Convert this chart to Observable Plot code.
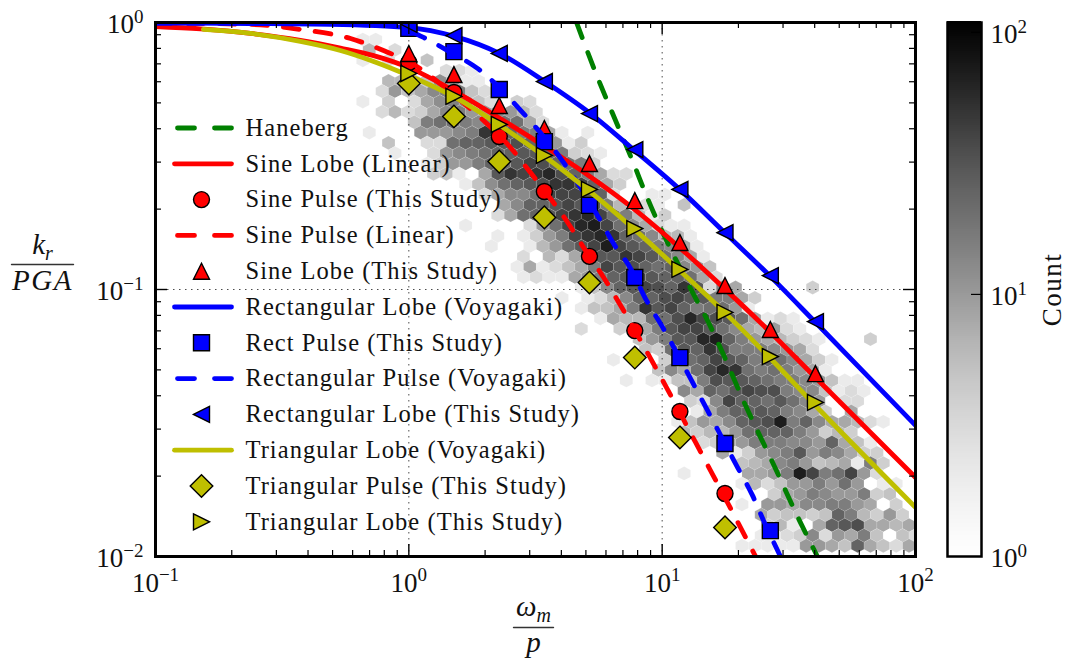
<!DOCTYPE html>
<html>
<head>
<meta charset="utf-8">
<script src="https://cdn.jsdelivr.net/npm/d3@7"></script>
<script src="https://cdn.jsdelivr.net/npm/@observablehq/plot@0.6"></script>
<style>
html,body{margin:0;padding:0;background:#fff;}
#chart{position:relative;width:1069px;height:661px;overflow:hidden;}
#chart svg{position:absolute;top:0;background:transparent;}
</style>
</head>
<body>
<div id="chart"></div>
<script>
// ---- Values. Curves and markers are stored as log10(x), log10(y). ----
const markerLogX = [0, .178, .357, .535, .713, .892, 1.070, 1.248, 1.427, 1.605];
const sineLobeStudy = [-.116, -.195, -.311, -.397, -.528, -.667, -.824, -.985, -1.150, -1.315];
const sinePulseStudy = [-.150, -.262, -.427, -.633, -.876, -1.154, -1.457, -1.764];
const triPulseStudy = [-.228, -.352, -.521, -.730, -.974, -1.255, -1.554, -1.891];
const rectPulseStudy = [-.022, -.109, -.251, -.446, -.685, -.955, -1.255, -1.577, -1.903];
const triLobeStudy = [-.191, -.277, -.382, -.498, -.625, -.772, -.925, -1.086, -1.251, -1.423];
const rectLobeStudy = [-.007, -.049, -.116, -.221, -.341, -.476, -.625, -.787, -.948, -1.120];

const rectLobeX = [-1, -.625, -.309, 0, .180, .358, .536, .717, .887, 1.069, 1.247, 1.424, 1.602, 2];
const rectLobeY = [-.002, -.004, -.007, -.019, -.052, -.116, -.221, -.341, -.476, -.625, -.787, -.948, -1.120, -1.509];
const sineLobeX = [-1, -.822, -.625, -.428, -.270, -.139, 0, .176, .354, .531, .709, .887, 1.069, 1.242, 1.424, 1.597, 2];
const sineLobeY = [-.015, -.024, -.041, -.067, -.096, -.124, -.169, -.255, -.356, -.461, -.573, -.697, -.843, -.993, -1.157, -1.322, -1.704];
const triLobeX = [-.811, -.625, -.428, -.270, -.139, 0, .176, .354, .531, .709, .887, 1.069, 1.242, 1.420, 1.597, 2];
const triLobeY = [-.026, -.041, -.071, -.105, -.146, -.199, -.277, -.382, -.498, -.629, -.772, -.929, -1.082, -1.251, -1.427, -1.816];
const sinePulseX = [-1, -.625, -.428, -.230, -.100, .026, .165, .295, .401, .480, .559, .627, .690, .769, .836, .954, 1.013, 1.132, 1.191, 1.258, 1.309, 1.369];
const sinePulseY = [-.002, -.007, -.026, -.060, -.105, -.161, -.262, -.367, -.468, -.562, -.659, -.749, -.843, -.955, -1.060, -1.258, -1.360, -1.573, -1.678, -1.798, -1.891, -2];
const rectPulseX = [-1, -.428, -.072, .058, .165, .271, .453, .599, .678, .749, .808, .875, .934, 1.002, 1.120, 1.179, 1.298, 1.357, 1.400, 1.467];
const rectPulseY = [-.002, -.002, -.007, -.056, -.112, -.172, -.341, -.509, -.618, -.730, -.828, -.921, -1.034, -1.142, -1.348, -1.453, -1.667, -1.772, -1.865, -2];
const hanebergX = [.662, .745, .816, .879, .946, 1.120, 1.179, 1.231, 1.329, 1.436, 1.546, 1.613];
const hanebergY = [0, -.206, -.367, -.509, -.667, -1.011, -1.116, -1.221, -1.434, -1.648, -1.873, -2];

// Hexbin counts by hexagon row: [row, first column, ...counts]; 0 means an empty cell.
const hexRows = [
[-24,0,2,2],
[-23,0,6,0,3],
[-22,0,2,0,3,0,0,5],
[-21,6,3,3,2],
[-20,2,6,6,5,5,12,8,2,2],
[-19,1,3,10,5,8,13,16,16,5,3],
[-18,0,2,0,4,1,3,8,12,15,13,5,3,0,4,3],
[-17,1,3,6,3,4,8,13,16,10,10,13,10,6,3],
[-16,4,5,16,20,20,16,13,16,20,20,8,3],
[-15,0,2,0,0,0,10,10,10,13,16,50,30,25,16,16,8,2,0,2],
[-14,2,5,0,0,3,3,20,25,25,30,30,35,25,20,10,2,4,1],
[-13,2,2,0,1,3,10,13,16,20,25,25,30,30,25,16,4,3,2],
[-12,5,2,4,10,10,16,25,20,30,40,35,25,20,16,4,1],
[-11,5,4,5,2,1,8,30,50,40,50,60,35,25,16,8,3,3],
[-10,8,2,5,12,20,25,30,35,50,50,40,25,8,4],
[-9,9,3,8,13,13,20,40,40,40,30,25,3,0,0,2,2],
[-8,11,8,13,25,25,30,40,30,30,16,6,0,3,2,0,5],
[-7,10,3,8,20,25,30,40,50,60,40,20,16,6,2,4],
[-6,8,2,0,0,0,0,3,10,20,40,60,70,40,20,13,8,3,2,2],
[-5,10,2,0,2,4,10,16,40,50,60,50,25,20,13,6,6,2,1],
[-4,10,2,0,0,2,6,10,20,30,40,70,40,30,25,16,13,8,2],
[-3,12,3,1,6,3,8,16,30,30,50,40,30,20,13,8,2],
[-2,12,2,8,2,3,5,8,16,40,30,35,25,20,25,13,10,5],
[-1,12,2,3,2,2,8,10,16,25,30,40,30,25,25,20,8,3],
[0,16,1,2,5,13,25,30,40,35,25,50,30,3,15,8,1,0,0,0,0,4],
[1,15,2,0,2,3,6,13,25,25,35,40,30,30,16,16,8,4],
[2,17,2,5,5,8,16,50,30,40,25,16,20,20,10,2],
[3,18,2,8,6,6,20,20,35,60,40,35,30,20,8,2,3,2],
[4,17,3,0,1,4,6,8,16,30,40,40,30,20,13,8,6,10,3,2],
[5,21,5,10,16,30,30,60,70,25,16,10,8,6,4,3,2,0,0,0,4],
[6,22,5,4,20,30,25,50,35,16,16,16,13,10,8,3],
[7,19,2,0,1,1,4,8,20,25,40,30,25,16,25,20,13,8,4,2],
[8,22,1,5,13,8,20,40,60,50,20,16,20,16,10,8,2,1],
[9,20,2,0,2,2,5,5,16,35,30,30,25,20,16,16,13,10,5,2,2],
[10,24,1,13,8,25,20,30,40,35,35,16,13,13,5,2,3,2],
[11,25,4,3,13,40,25,25,20,30,20,13,10,1,3,3],
[12,26,2,8,16,25,25,30,25,16,13,8,4,1,8],
[13,24,2,5,10,8,13,25,30,35,70,16,25,13,8,8,6,3,2],
[14,25,6,4,6,6,10,20,25,25,25,16,10,4,6,4],
[15,26,3,4,8,10,16,16,16,13,13,10,25,8,5,2],
[16,28,8,2,4,10,13,16,30,10,16,13,8,4,4],
[17,28,1,5,6,8,13,16,10,5,6,8,2,16,4],
[18,25,2,0,0,0,0,8,8,10,16,70,40,16,20,40,10,3,1,1],
[19,29,2,6,3,5,10,10,16,10,20,10,1,2,2],
[20,29,1,1,1,4,8,10,16,13,10,10,16,4,5,1],
[21,29,2,0,10,10,8,13,13,16,16,10,8,1,4],
[22,31,8,4,5,5,4,5,25,16,6,4,10,4,1],
[23,31,4,6,2,1,8,25,30,35,8,8,6,8],
[24,31,2,2,3,4,13,3,10,8,16,5,1,5,3],
[25,29,2,2,2,2,2,10,10,8,5,25,8,5,3,8]
];

const xMajor = [0.1, 1, 10, 100];
const yMajor = [0.01, 0.1, 1];
const cbMajor = [1, 10, 100];
const legendLabels = ["Haneberg","Sine Lobe (Linear)","Sine Pulse (This Study)","Sine Pulse (Linear)","Sine Lobe (This Study)","Rectangular Lobe (Voyagaki)","Rect Pulse (This Study)","Rectangular Pulse (Voyagaki)","Rectangular Lobe (This Study)","Triangular Lobe (Voyagaki)","Triangular Pulse (This Study)","Triangular Lobe (This Study)"];

// ---- Grid of the hexagons, in decades ----
const hexCol0 = -0.1816, hexColStep = 0.05073, hexRow0 = -0.9925, hexRowStep = 0.03869;
const hexes = hexRows.flatMap(([row, first, ...counts]) => counts.map((count, i) => ({
  x: 10 ** (hexCol0 + hexColStep * (first + i + (((row % 2) + 2) % 2 ? .5 : 0))),
  y: 10 ** (hexRow0 - hexRowStep * row),
  count
}))).filter(d => d.count > 0);

const series = (xs, ys) => xs.map((x, i) => ({x: 10 ** x, y: 10 ** ys[i]}));
const study = ys => ys.map((y, i) => ({x: 10 ** markerLogX[i], y: 10 ** y}));

// ---- Symbols ----
const poly = pts => ({draw(c) { pts.forEach((p, i) => i ? c.lineTo(p[0], p[1]) : c.moveTo(p[0], p[1])); c.closePath(); }});
const S = 8, D = 11.3;
const triUp = poly([[0,-S],[S,S],[-S,S]]);
const triLeft = poly([[-S,0],[S,-S],[S,S]]);
const triRight = poly([[S,0],[-S,S],[-S,-S]]);
const square = poly([[-S,-S],[S,-S],[S,S],[-S,S]]);
const diamond = poly([[0,-D],[D,0],[0,D],[-D,0]]);
const hexSym = poly([[0,-6.9],[6.42,-3.45],[6.42,3.45],[0,6.9],[-6.42,3.45],[-6.42,-3.45]]);

const RED = "#ff0000", BLUE = "#0000ff", GREEN = "#008000", OLIVE = "#bfbf00";
const LW = 4.8, DASH = "16,16", LEGEND_DASH = "17,20";
const font = "'Liberation Serif', serif";

const lineMark = (d, stroke, dash) => Plot.line(d, {x:"x", y:"y", stroke, strokeWidth:LW, strokeDasharray:dash, curve:"monotone-x", clip:true});
const markerMark = (d, fill, symbol, r = 8) => Plot.dot(d, {x:"x", y:"y", fill, stroke:"#000", strokeWidth:1.4, symbol, r, clip:true});

const MW = 1069, MH = 661, mL = 155, mR = 154, mT = 22, mB = 105;
const innerW = MW - mL - mR, innerH = MH - mT - mB;
const minorsX = xMajor.slice(0,-1).flatMap(d => d3.range(2,10).map(k => d * k));
const minorsY = yMajor.slice(0,-1).flatMap(d => d3.range(2,10).map(k => d * k));
const powerLabel = d => `10^{${Math.round(Math.log10(d))}}`.replace("-","\u2212");

const main = Plot.plot({
  width: MW, height: MH, marginLeft: mL, marginRight: mR, marginTop: mT, marginBottom: mB,
  style: {background:"transparent", fontFamily:font},
  x: {type:"log", domain:[0.1,100], axis:null},
  y: {type:"log", domain:[0.01,1], axis:null},
  color: {type:"log", domain:[1,109], scheme:"greys"},
  marks: [
    Plot.dot(hexes, {x:"x", y:"y", fill:"count", symbol:hexSym, r:7, stroke:"#fff", strokeOpacity:.2, strokeWidth:.6, clip:true}),
    Plot.ruleX([1,10], {x:d=>d, stroke:"#000", strokeWidth:1, strokeOpacity:.7, strokeDasharray:"1.5,4.5"}),
    Plot.ruleY([0.1], {y:d=>d, stroke:"#000", strokeWidth:1, strokeOpacity:.7, strokeDasharray:"1.5,4.5"}),
    lineMark(series(hanebergX, hanebergY), GREEN, DASH),
    lineMark(series(sineLobeX, sineLobeY), RED),
    markerMark(study(sinePulseStudy), RED, "circle"),
    lineMark(series(sinePulseX, sinePulseY), RED, DASH),
    markerMark(study(sineLobeStudy), RED, triUp),
    lineMark(series(rectLobeX, rectLobeY), BLUE),
    markerMark(study(rectPulseStudy), BLUE, square),
    lineMark(series(rectPulseX, rectPulseY), BLUE, DASH),
    markerMark(study(rectLobeStudy), BLUE, triLeft),
    lineMark(series(triLobeX, triLobeY), OLIVE),
    markerMark(study(triPulseStudy), OLIVE, diamond),
    markerMark(study(triLobeStudy), OLIVE, triRight),
    // inward ticks on all four sides
    Plot.tickX(xMajor, {x:d=>d, insetTop:innerH-12, strokeWidth:1.4}),
    Plot.tickX(xMajor, {x:d=>d, insetBottom:innerH-12, strokeWidth:1.4}),
    Plot.tickX(minorsX, {x:d=>d, insetTop:innerH-6, strokeWidth:1.2}),
    Plot.tickX(minorsX, {x:d=>d, insetBottom:innerH-6, strokeWidth:1.2}),
    Plot.tickY(yMajor, {y:d=>d, insetRight:innerW-12, strokeWidth:1.4}),
    Plot.tickY(yMajor, {y:d=>d, insetLeft:innerW-12, strokeWidth:1.4}),
    Plot.tickY(minorsY, {y:d=>d, insetRight:innerW-6, strokeWidth:1.2}),
    Plot.tickY(minorsY, {y:d=>d, insetLeft:innerW-6, strokeWidth:1.2}),
    Plot.frame({stroke:"#000", strokeWidth:3}),
    Plot.axisX(xMajor, {anchor:"bottom", label:null, tickSize:0, tickPadding:16, fontSize:27, fill:"#111", tickFormat:powerLabel}),
    Plot.axisY(yMajor, {anchor:"left", label:null, tickSize:0, tickPadding:12, dy:2, fontSize:27, fill:"#111", tickFormat:powerLabel})
  ]
});

// ---- Colour bar ----
const cbLevels = d3.range(0,260).map(i => ({c1:109 ** (i/260), c2:109 ** ((i+1.5)/260), c:109 ** ((i+.5)/260)}));
const colorbar = Plot.plot({
  width: 169, height: MH, marginLeft: 47, marginRight: 88, marginTop: mT, marginBottom: mB,
  style: {background:"transparent", fontFamily:font},
  x: {domain:[0,1], axis:null},
  y: {type:"log", domain:[1,109], axis:null},
  color: {type:"log", domain:[1,109], scheme:"greys"},
  marks: [
    Plot.rect(cbLevels, {x1:0, x2:1, y1:"c1", y2:"c2", fill:"c", shapeRendering:"crispEdges"}),
    Plot.tickY([10,100], {y:d=>d, insetLeft:24, strokeWidth:1.2}),
    Plot.frame({stroke:"#000", strokeWidth:2.5}),
    Plot.axisY(cbMajor, {anchor:"right", label:null, tickSize:0, tickPadding:9, dy:2, fontSize:27, fill:"#111", tickFormat:d=>`10^{${Math.round(Math.log10(d))}}`})
  ]
});
colorbar.style.left = "900px";

// ---- Legend, axis titles: a transparent sheet in page units ----
const rowY = i => 127.5 + i * 35.8;
const legendLine = (i, stroke, dash) => Plot.line([{x:dash ? 177 : 174,y:rowY(i)},{x:231,y:rowY(i)}], {x:"x", y:"y", stroke, strokeWidth:LW, strokeDasharray:dash});
const legendDot = (i, fill, symbol) => Plot.dot([{x:201,y:rowY(i)}], {x:"x", y:"y", fill, stroke:"#000", strokeWidth:1.4, symbol, r:8});
const mathText = (text, x, y, o = {}) => Plot.text([{x,y,text}], {x:"x", y:"y", text:"text", fontSize:29, fontStyle:"italic", fill:"#111", ...o});
const bar = (x1, x2, y) => Plot.line([{x:x1,y},{x:x2,y}], {x:"x", y:"y", stroke:"#333", strokeWidth:1.4});
const sheet = Plot.plot({
  width: MW, height: MH, margin: 0,
  style: {background:"transparent", fontFamily:font},
  x: {domain:[0,MW], range:[0,MW], axis:null},
  y: {domain:[0,MH], range:[0,MH], axis:null},
  marks: [
    legendLine(0, GREEN, LEGEND_DASH), legendLine(1, RED), legendDot(2, RED, "circle"),
    legendLine(3, RED, LEGEND_DASH), legendDot(4, RED, triUp), legendLine(5, BLUE),
    legendDot(6, BLUE, square), legendLine(7, BLUE, LEGEND_DASH), legendDot(8, BLUE, triLeft),
    legendLine(9, OLIVE), legendDot(10, OLIVE, diamond), legendDot(11, OLIVE, triRight),
    Plot.text(legendLabels, {x:245, y:(d,i)=>rowY(i), text:d=>d, textAnchor:"start", fontSize:24.5, fill:"#111"}),
    mathText("k_{r}", 42, 244),
    bar(11, 73, 264),
    mathText("PGA", 42, 280),
    mathText("\u03C9_{m}", 533, 606),
    bar(513, 553, 627),
    mathText("p", 533, 642),
    Plot.text(["Count"], {x:1052, y:289, text:d=>d, rotate:-90, fontSize:27, fill:"#111"})
  ]
});

// ---- Turn ^{..} and _{..} into raised / lowered tspans, as real text ----
function typeset(svg) {
  svg.querySelectorAll("text").forEach(t => {
    const label = t.textContent;
    if (legendLabels.includes(label)) t.setAttribute("letter-spacing", "1.05");
    if (label === "Count" || label === "PGA") t.setAttribute("letter-spacing", "1.5");
    const m = /^(.*?)([\^_])\{(.*)\}$/.exec(label);
    if (!m) return;
    const sup = m[2] === "^";
    t.textContent = m[1];
    const s = document.createElementNS("http://www.w3.org/2000/svg", "tspan");
    s.textContent = m[3];
    s.setAttribute("dy", sup ? "-0.55em" : "0.3em");
    s.setAttribute("font-size", sup ? "19" : "20");
    t.appendChild(s);
  });
}
[main, colorbar, sheet].forEach(s => { typeset(s); document.getElementById("chart").appendChild(s); });
</script>
</body>
</html>
